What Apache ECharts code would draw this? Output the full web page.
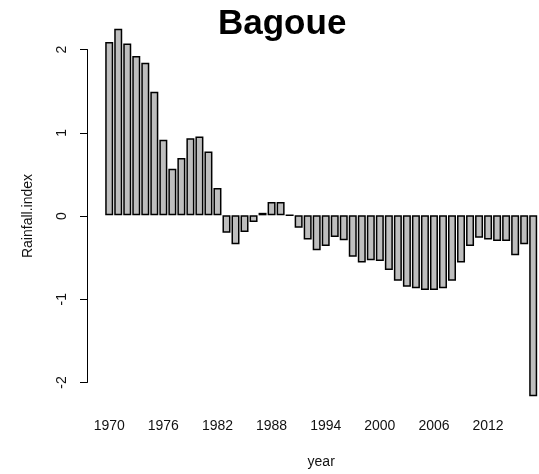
<!DOCTYPE html>
<html>
<head>
<meta charset="utf-8">
<script src="https://cdn.jsdelivr.net/npm/echarts@6/dist/echarts.min.js"></script>
<style>
html, body { margin: 0; padding: 0; background: #fff; }
#chart { width: 539px; height: 474px; }
</style>
</head>
<body>
<div id="chart"></div>
<script>
// years 1970 - 2017
const years = []
for (let y = 1970; y <= 2017; y++) years.push(String(y))

const rainfallIndex = [
    2.09, 2.25, 2.07, 1.92, 1.84, 1.49, 0.91, 0.56, 0.69, 0.93,
    0.95, 0.77, 0.33, -0.21, -0.35, -0.20, -0.08, 0.03, 0.16, 0.16,
    0.00, -0.15, -0.29, -0.42, -0.37, -0.26, -0.30, -0.50, -0.57, -0.54,
    -0.55, -0.66, -0.79, -0.86, -0.88, -0.90, -0.90, -0.88, -0.79, -0.57,
    -0.37, -0.27, -0.29, -0.31, -0.31, -0.48, -0.35, -2.18
]

const yTicks = [-2, -1, 0, 1, 2]

const chart = echarts.init(document.getElementById('chart'))
const font = 'Liberation Sans, Arial, sans-serif'

const option = {
    backgroundColor: '#fff',
    animation: false,
    title: {
        text: 'Bagoue',
        left: 218,
        top: 7,
        padding: 0,
        textStyle: { fontFamily: font, fontSize: 35, fontWeight: 'bold', color: '#000' }
    },
    grid: [
        // bars
        { left: 104.7, width: 433, top: 24.5, height: 378.8 },
        // y axis drawn from -2 to 2 only
        { left: 87, width: 400, top: 49.5, height: 333 }
    ],
    xAxis: [
        {
            type: 'category',
            gridIndex: 0,
            data: years,
            boundaryGap: true,
            axisLine: { show: false },
            axisTick: { show: false },
            axisLabel: {
                interval: 5,
                margin: 17,
                fontFamily: font,
                fontSize: 14,
                color: '#111'
            },
            name: 'year',
            nameLocation: 'middle',
            nameGap: 53,
            nameTextStyle: { fontFamily: font, fontSize: 14, color: '#111' }
        },
        { type: 'value', gridIndex: 1, show: false }
    ],
    yAxis: [
        { type: 'value', gridIndex: 0, min: -2.25, max: 2.3, show: false },
        {
            type: 'value',
            gridIndex: 1,
            min: yTicks[0],
            max: yTicks[yTicks.length - 1],
            interval: 1,
            axisLine: { show: true, lineStyle: { color: '#000', width: 1 } },
            axisTick: { show: true, length: 7, lineStyle: { color: '#000' } },
            splitLine: { show: false },
            axisLabel: {
                rotate: 90,
                margin: 18,
                fontFamily: font,
                fontSize: 14,
                color: '#111'
            },
            name: 'Rainfall.index',
            nameLocation: 'middle',
            nameRotate: 90,
            nameGap: 52,
            nameTextStyle: { fontFamily: font, fontSize: 14, color: '#111' }
        }
    ],
    series: [
        {
            type: 'bar',
            xAxisIndex: 0,
            yAxisIndex: 0,
            data: rainfallIndex,
            barWidth: 8,
            itemStyle: { color: '#bebebe', borderColor: '#000', borderWidth: 1.5 }
        }
    ]
}
chart.setOption(option)
</script>
</body>
</html>
